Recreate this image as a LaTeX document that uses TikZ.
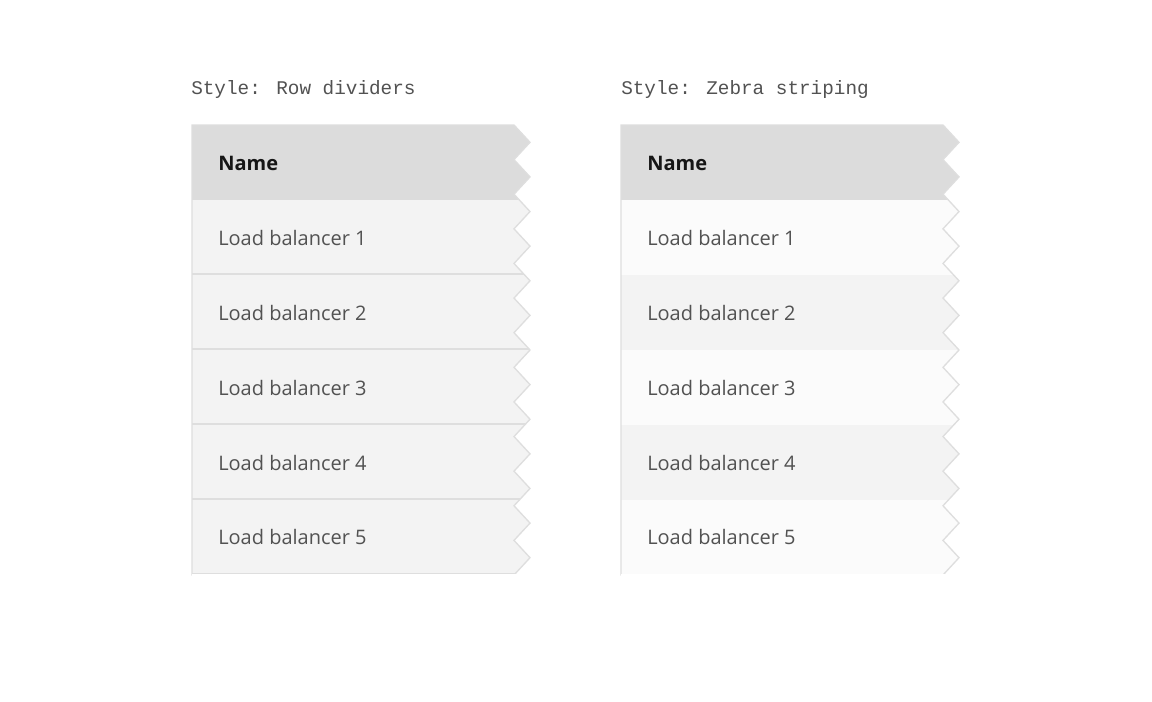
\documentclass[tikz,border=0pt]{standalone}
\usepackage{fontspec}
\setmainfont{Open Sans}
\newfontfamily\monof{Liberation Mono}
\definecolor{hdr}{HTML}{DCDCDC}
\definecolor{rowA}{HTML}{F3F3F3}
\definecolor{rowB}{HTML}{FBFBFB}
\definecolor{divc}{HTML}{DEDEDE}
\definecolor{txt}{HTML}{525252}
\definecolor{ttl}{HTML}{161616}
\tikzset{
  celltext/.style={anchor=west,font=\fontsize{15}{18}\selectfont,text=txt,inner sep=0},
  headtext/.style={anchor=west,font=\fontsize{15}{18}\selectfont\bfseries,text=ttl,inner sep=0},
  titletext/.style={anchor=west,font=\monof\fontsize{14.5}{17}\selectfont,text=txt,inner sep=0},
}
\newcommand{\tblshape}[1]{%
  (#1,125) -- ({#1+322},125)
  \foreach \k in {0,...,12}{ -- ({#1+338},{125+34.615*\k+17.31}) -- ({#1+322},{125+34.615*(\k+1)}) }
  -- (#1,575) -- cycle}
\begin{document}
\begin{tikzpicture}[x=0.75pt,y=-0.75pt]
\useasboundingbox[fill=white] (0,0) rectangle (1152,701);
% left table
\begin{scope}
\clip \tblshape{192};
\fill[rowA] (192,200) rectangle (540,575);
\fill[hdr] (192,125) rectangle (540,200);
\foreach \y in {274,349,424,499,574}{\draw[divc,line width=1.5] (192,\y) -- (540,\y);}
\end{scope}
\draw[divc,line width=1] \tblshape{192};
% right table
\begin{scope}
\clip \tblshape{621};
\fill[rowB] (621,200) rectangle (970,575);
\fill[rowA] (621,275) rectangle (970,350);
\fill[rowA] (621,425) rectangle (970,500);
\fill[hdr] (621,125) rectangle (970,200);
\end{scope}
\draw[divc,line width=1] \tblshape{621};
\draw[white,line width=2] (621,575) -- (950,575);
\draw[white,line width=2] (192,575.8) -- (520,575.8);
\node[titletext] (t1) at (191,89) {Style: Row dividers};
\node[titletext] (t2) at (621,89) {Style: Zebra striping};
\node[headtext] (h1) at (218,163) {Name};
\node[headtext] (h2) at (647,163) {Name};
\foreach \i/\y in {1/238,2/313,3/388,4/463,5/537}{
  \node[celltext] (a\i) at (218,\y) {Load balancer \i};
  \node[celltext] (b\i) at (647,\y) {Load balancer \i};
}
\end{tikzpicture}
\end{document}
